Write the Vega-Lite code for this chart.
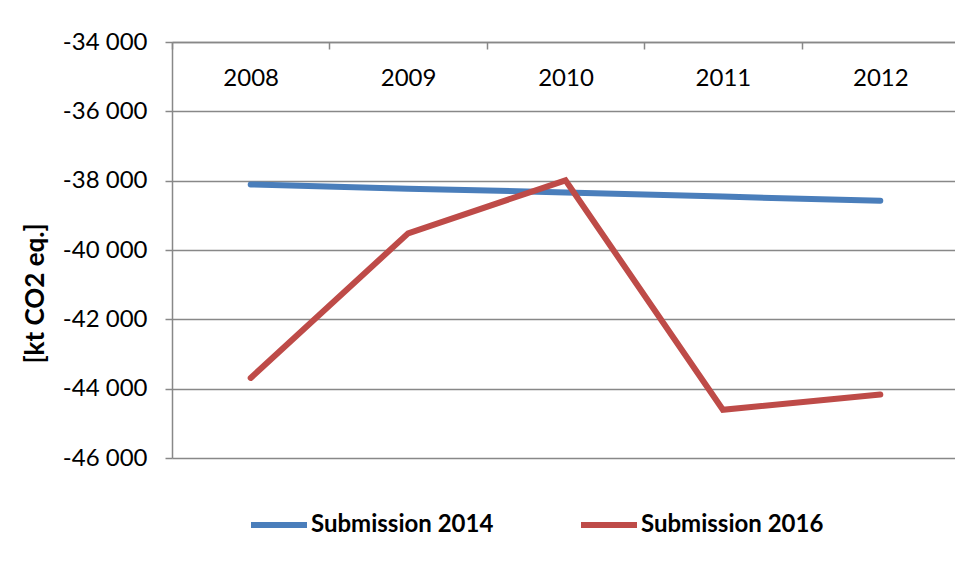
{
  "$schema": "https://vega.github.io/schema/vega-lite/v6.json",
  "width": 787,
  "height": 416,
  "autosize": {"type": "none"},
  "padding": {"left": 172, "top": 42, "right": 0, "bottom": 122},
  "background": "white",
  "config": {
    "view": {"stroke": null},
    "font": "Lato",
    "axis": {"domainColor": "#888888", "domainWidth": 1.5, "tickColor": "#888888", "tickWidth": 1.5, "gridColor": "#888888", "gridWidth": 1.5, "labelColor": "black", "titleColor": "black", "labelFont": "Lato", "titleFont": "Lato"}
  },
  "data": {
    "values": [
      {"year": "2008", "series": "Submission 2014", "value": -38110},
      {"year": "2009", "series": "Submission 2014", "value": -38230},
      {"year": "2010", "series": "Submission 2014", "value": -38340},
      {"year": "2011", "series": "Submission 2014", "value": -38460},
      {"year": "2012", "series": "Submission 2014", "value": -38580},
      {"year": "2008", "series": "Submission 2016", "value": -43690},
      {"year": "2009", "series": "Submission 2016", "value": -39520},
      {"year": "2010", "series": "Submission 2016", "value": -37990},
      {"year": "2011", "series": "Submission 2016", "value": -44610},
      {"year": "2012", "series": "Submission 2016", "value": -44170}
    ]
  },
  "mark": {"type": "line", "strokeWidth": 6, "strokeCap": "round", "strokeJoin": "miter"},
  "encoding": {
    "x": {
      "field": "year",
      "type": "ordinal",
      "bandPosition": 0.5,
      "scale": {"type": "band", "paddingInner": 0, "paddingOuter": 0},
      "axis": {
        "orient": "bottom",
        "offset": -416,
        "title": null,
        "labelAngle": 0,
        "labelFontSize": 24,
        "tickSize": 7,
        "tickBand": "extent",
        "labelPadding": 17,
        "grid": false
      }
    },
    "y": {
      "field": "value",
      "type": "quantitative",
      "scale": {"domain": [-46000, -34000], "nice": false, "zero": false},
      "axis": {
        "values": [-46000, -44000, -42000, -40000, -38000, -36000, -34000],
        "labelExpr": "(datum.value < 0 ? '-' : '') + replace(format(abs(datum.value), ',d'), ',', ' ')",
        "labelFontSize": 24,
        "tickSize": 7,
        "labelPadding": 18,
        "grid": true,
        "title": "[kt CO2 eq.]",
        "titleFontSize": 26,
        "titleFontWeight": "bold",
        "titlePadding": 14,
        "titleY": 251
      }
    },
    "color": {
      "field": "series",
      "type": "nominal",
      "scale": {"domain": ["Submission 2014", "Submission 2016"], "range": ["#4A7EBB", "#BE4B48"]},
      "legend": {
        "title": null,
        "orient": "none",
        "direction": "horizontal",
        "legendX": 76,
        "legendY": 452,
        "symbolType": "stroke",
        "symbolSize": 3136,
        "symbolStrokeWidth": 6,
        "labelFontSize": 24,
        "labelFontWeight": "bold",
        "labelColor": "black",
        "labelLimit": 400,
        "labelOffset": 1,
        "columnPadding": 75
      }
    }
  }
}
